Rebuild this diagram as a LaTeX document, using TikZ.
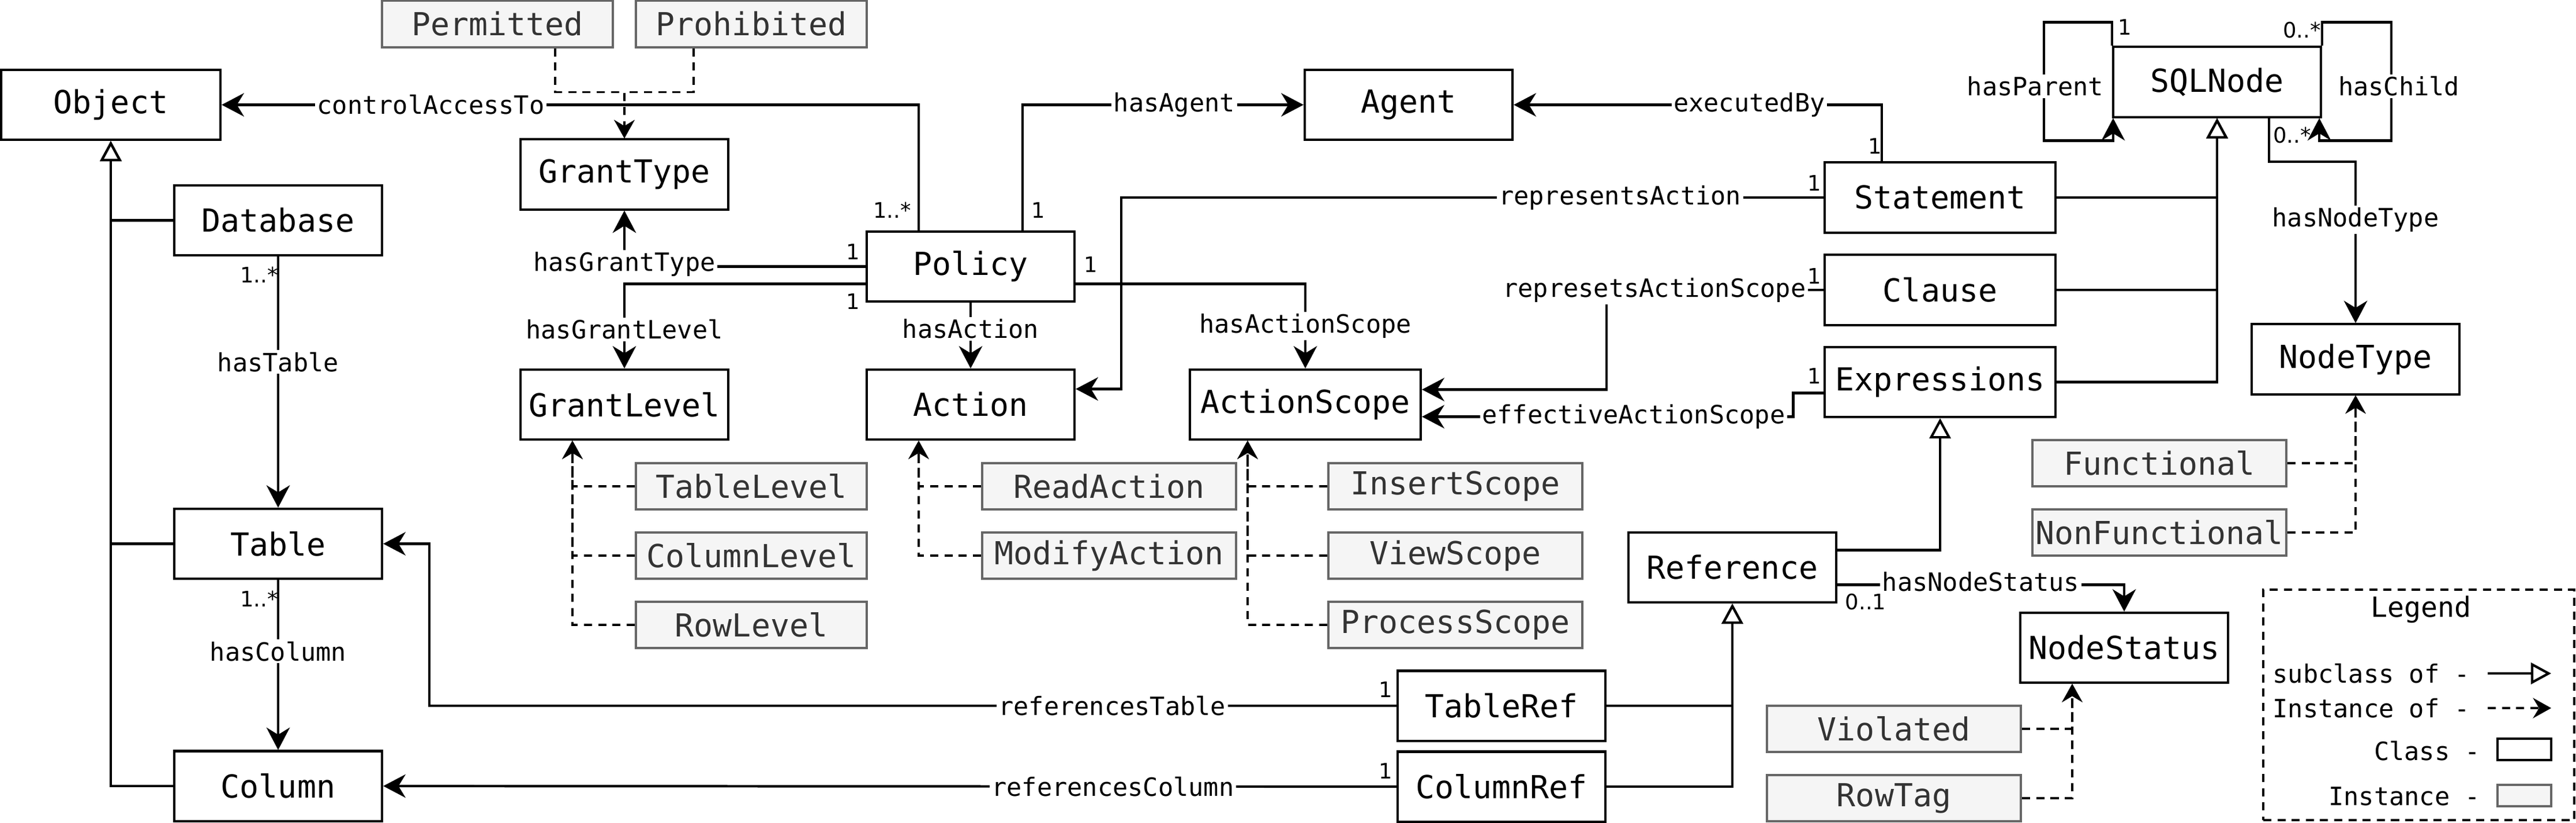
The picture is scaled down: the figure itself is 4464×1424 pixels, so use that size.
\documentclass[tikz,border=0pt]{standalone}
\usepackage{fontspec}
\setmainfont{DejaVu Sans Mono}
\newfontfamily\multfont{DejaVu Sans}
\usetikzlibrary{arrows.meta}

\definecolor{instfill}{HTML}{F5F5F5}
\definecolor{instline}{HTML}{666666}
\definecolor{insttext}{HTML}{333333}

\tikzset{
  cls/.style={draw, line width=1.15pt, fill=white, minimum width=3.6cm,
    minimum height=1.21cm, inner sep=0pt, font=\fontsize{15.6}{18}\selectfont},
  inst/.style={draw=instline, fill=instfill, text=insttext, line width=1.15pt,
    minimum width=4cm, minimum height=0.8cm, inner sep=0pt,
    font=\fontsize{15.6}{18}\selectfont},
  rel/.style={line width=1.2pt, -{Stealth[length=11pt,width=11.5pt,inset=3.5pt]}},
  sub/.style={line width=1.2pt, -{Triangle[fill=white,length=10pt,width=10.5pt]}},
  inof/.style={line width=1pt, dash pattern=on 4pt off 3pt,
    -{Stealth[length=9pt,width=10pt,inset=3pt]}},
  lbl/.style={fill=white, inner sep=1pt, font=\fontsize{12.4}{14}\selectfont},
  mult/.style={inner sep=0pt, font=\multfont\fontsize{10.5}{12}\selectfont},
}

\begin{document}
\begin{tikzpicture}[x=0.01cm, y=-0.01cm]
  \useasboundingbox (0,0) rectangle (4464,1424);

  % classes
  \node[cls, minimum width=3.8cm] (Object) at (192,181.5) {Object};
  \node[cls] (Database) at (482,381.5) {Database};
  \node[cls] (Table) at (482,941.5) {Table};
  \node[cls] (Column) at (482,1361) {Column};
  \node[cls] (GrantType) at (1082,302) {GrantType};
  \node[cls] (GrantLevel) at (1082,700.5) {GrantLevel};
  \node[cls] (Policy) at (1682,461.5) {Policy};
  \node[cls] (Action) at (1682,700.5) {Action};
  \node[cls, minimum width=4cm] (ActionScope) at (2262,700.5) {ActionScope};
  \node[cls] (Agent) at (2441,181.5) {Agent};
  \node[cls, minimum width=4cm] (Statement) at (3362,342) {Statement};
  \node[cls, minimum width=4cm] (Clause) at (3362,502) {Clause};
  \node[cls, minimum width=4cm] (Expressions) at (3362,661.5) {Expressions};
  \node[cls] (SQLNode) at (3842,142) {SQLNode};
  \node[cls] (NodeType) at (4082,622) {NodeType};
  \node[cls] (Reference) at (3002,982.5) {Reference};
  \node[cls] (NodeStatus) at (3681,1121.5) {NodeStatus};
  \node[cls] (TableRef) at (2602,1222) {TableRef};
  \node[cls] (ColumnRef) at (2602,1362) {ColumnRef};

  % instances
  \node[inst] (Permitted) at (862,41.5) {Permitted};
  \node[inst] (Prohibited) at (1302,41.5) {Prohibited};
  \node[inst] (TableLevel) at (1302,842) {TableLevel};
  \node[inst] (ColumnLevel) at (1302,962) {ColumnLevel};
  \node[inst] (RowLevel) at (1302,1082) {RowLevel};
  \node[inst, minimum width=4.4cm] (ReadAction) at (1922,842) {ReadAction};
  \node[inst, minimum width=4.4cm] (ModifyAction) at (1922,962) {ModifyAction};
  \node[inst, minimum width=4.4cm] (InsertScope) at (2522,842) {InsertScope};
  \node[inst, minimum width=4.4cm] (ViewScope) at (2522,962) {ViewScope};
  \node[inst, minimum width=4.4cm] (ProcessScope) at (2522,1082) {ProcessScope};
  \node[inst, minimum width=4.4cm] (Functional) at (3742,802) {Functional};
  \node[inst, minimum width=4.4cm] (NonFunctional) at (3742,922) {NonFunctional};
  \node[inst, minimum width=4.4cm] (Violated) at (3282,1262) {Violated};
  \node[inst, minimum width=4.4cm] (RowTag) at (3282,1382) {RowTag};

  % subclass of
  \draw[sub] (Database.west) -| (Object.south);
  \draw[sub] (Table.west) -| (Object.south);
  \draw[sub] (Column.west) -| (Object.south);
  \draw[sub] (Statement.east) -| (SQLNode.south);
  \draw[sub] (Clause.east) -| (SQLNode.south);
  \draw[sub] (Expressions.east) -| (SQLNode.south);
  \draw[sub] ([yshift=0.3cm]Reference.east) -| (Expressions.south);
  \draw[sub] (TableRef.east) -| (Reference.south);
  \draw[sub] (ColumnRef.east) -| (Reference.south);

  % instance of
  \draw[inof] ([xshift=1cm]Permitted.south) |- ([yshift=0.8cm]GrantType.north) -- (GrantType.north);
  \draw[inof] ([xshift=-1cm]Prohibited.south) |- ([yshift=0.8cm]GrantType.north) -- (GrantType.north);
  \draw[inof] (TableLevel.west) -| ([xshift=-0.9cm]GrantLevel.south);
  \draw[inof] (ColumnLevel.west) -| ([xshift=-0.9cm]GrantLevel.south);
  \draw[inof] (RowLevel.west) -| ([xshift=-0.9cm]GrantLevel.south);
  \draw[inof] (ReadAction.west) -| ([xshift=-0.9cm]Action.south);
  \draw[inof] (ModifyAction.west) -| ([xshift=-0.9cm]Action.south);
  \draw[inof] (InsertScope.west) -| ([xshift=-1cm]ActionScope.south);
  \draw[inof] (ViewScope.west) -| ([xshift=-1cm]ActionScope.south);
  \draw[inof] (ProcessScope.west) -| ([xshift=-1cm]ActionScope.south);
  \draw[inof] (Functional.east) -| (NodeType.south);
  \draw[inof] (NonFunctional.east) -| (NodeType.south);
  \draw[inof] (Violated.east) -| ([xshift=-0.9cm]NodeStatus.south);
  \draw[inof] (RowTag.east) -| ([xshift=-0.9cm]NodeStatus.south);

  % properties
  \draw[rel] (Database.south) -- node[lbl, pos=0.42] {hasTable} (Table.north);
  \draw[rel] (Table.south) -- node[lbl, pos=0.42] {hasColumn} (Column.north);
  \draw[rel] ([xshift=-0.9cm]Policy.north) |- node[lbl, pos=0.85] {controlAccessTo} (Object.east);
  \draw[rel] ([xshift=0.9cm]Policy.north) |- node[lbl, pos=0.77] {hasAgent} (Agent.west);
  \draw[rel] ([xshift=-1.01cm]Statement.north) |- node[lbl, pos=0.68] {executedBy} (Agent.east);
  \draw[rel] (Statement.west) -| node[lbl, pos=0.145] {representsAction}
    ([xshift=0.79cm, yshift=0.27cm]Action.east) -- ([yshift=0.27cm]Action.east);
  \draw[rel] (Policy.west) -| node[lbl, pos=0.5, yshift=0.04cm] {hasGrantType} (GrantType.south);
  \draw[rel] ([yshift=-0.3cm]Policy.west) -| node[lbl, pos=0.77] {hasGrantLevel} (GrantLevel.north);
  \draw[rel] (Policy.south) -- node[lbl, pos=0.4] {hasAction} (Action.north);
  \draw[rel] ([yshift=-0.3cm]Policy.east) -| node[lbl, pos=0.75] {hasActionScope} (ActionScope.north);
  \draw[rel] (Clause.west) -| node[lbl, pos=0.39] {represetsActionScope}
    ([xshift=3.2cm, yshift=0.26cm]ActionScope.east) -- ([yshift=0.26cm]ActionScope.east);
  \draw[rel] ([yshift=-0.19cm]Expressions.west) -| ([xshift=6.43cm, yshift=-0.21cm]ActionScope.east)
    -- node[lbl, pos=0.43] {effectiveActionScope} ([yshift=-0.21cm]ActionScope.east);
  \draw[rel] (SQLNode.north west) -- ++(0,-41) -- ++(-118,0)
    |- node[lbl, pos=0.27, xshift=-0.15cm] {hasParent} ([xshift=0.02cm, yshift=-0.39cm]SQLNode.south west)
    -- ([xshift=0.02cm]SQLNode.south west);
  \draw[rel] (SQLNode.north east) -- ++(0,-41) -- ++(120,0)
    |- node[lbl, pos=0.27, xshift=0.13cm] {hasChild} ([xshift=-0.05cm, yshift=-0.39cm]SQLNode.south east)
    -- ([xshift=-0.05cm]SQLNode.south east);
  \draw[rel] ([xshift=0.9cm]SQLNode.south) |- ([yshift=2.79cm]NodeType.north)
    -- node[lbl, pos=0.36] {hasNodeType} (NodeType.north);
  \draw[rel] ([yshift=-0.3cm]Reference.east) -| node[lbl, pos=0.25, yshift=0.05cm] {hasNodeStatus} (NodeStatus.north);
  \draw[rel] (TableRef.west) -| node[lbl, pos=0.147] {referencesTable}
    ([xshift=0.8cm]Table.east) -- (Table.east);
  \draw[rel] (ColumnRef.west) -- node[lbl, pos=0.28] {referencesColumn} (Column.east);

  % multiplicities
  \node[mult] (mDbTab) at ([xshift=-0.33cm, yshift=-0.32cm]Database.south) {1..*};
  \node[mult] (mTabCol) at ([xshift=-0.33cm, yshift=-0.33cm]Table.south) {1..*};
  \node[mult] (mPolAcc) at ([xshift=-1.36cm, yshift=0.35cm]Policy.north) {1..*};
  \node[mult] (mPolAg) at ([xshift=1.17cm, yshift=0.35cm]Policy.north) {1};
  \node[mult] (mPolGT) at ([xshift=-0.22cm, yshift=0.25cm]Policy.west) {1};
  \node[mult] (mPolGL) at ([xshift=-0.22cm, yshift=-0.6cm]Policy.west) {1};
  \node[mult] (mPolAS) at ([xshift=0.26cm, yshift=0.03cm]Policy.east) {1};
  \node[mult] (mStEx) at ([xshift=-1.13cm, yshift=0.26cm]Statement.north) {1};
  \node[mult] (mStRA) at ([xshift=-0.16cm, yshift=0.25cm]Statement.west) {1};
  \node[mult] (mClRS) at ([xshift=-0.16cm, yshift=0.24cm]Clause.west) {1};
  \node[mult] (mExEA) at ([xshift=-0.16cm, yshift=0.1cm]Expressions.west) {1};
  \node[mult] (mSqlPar) at ([xshift=0.22cm, yshift=0.32cm]SQLNode.north west) {1};
  \node[mult] (mSqlCh) at ([xshift=-0.35cm, yshift=0.27cm]SQLNode.north east) {0..*};
  \node[mult] (mSqlNT) at ([xshift=-0.52cm, yshift=-0.29cm]SQLNode.south east) {0..*};
  \node[mult] (mRefNS) at ([xshift=0.49cm, yshift=-0.6cm]Reference.east) {0..1};
  \node[mult] (mTRef) at ([xshift=-0.19cm, yshift=0.28cm]TableRef.west) {1};
  \node[mult] (mCRef) at ([xshift=-0.19cm, yshift=0.27cm]ColumnRef.west) {1};

  % legend
  \node[draw, line width=1pt, dash pattern=on 4pt off 3pt, minimum width=5.39cm,
    minimum height=3.99cm] (legend) at (4191.5,1220.5) {};
  \node[font=\fontsize{13.7}{16}\selectfont] (legendT) at (4195,1055) {Legend};
  \node[lbl, anchor=east] (lgSub) at (4284,1166) {subclass of -};
  \node[lbl, anchor=east] (lgInst) at (4284,1226) {Instance of -};
  \node[lbl, anchor=east] (lgCls) at (4302,1300) {Class -};
  \node[lbl, anchor=east] (lgObj) at (4302,1379) {Instance -};
  \coordinate (subA) at (4311,1166);
  \coordinate (subB) at (4421,1166);
  \coordinate (insA) at (4311,1226);
  \coordinate (insB) at (4421,1226);
  \draw[sub] (subA) -- (subB);
  \draw[inof] (insA) -- (insB);
  \node[cls, minimum width=0.93cm, minimum height=0.37cm] (lgClsBox) at (4374.5,1297.5) {};
  \node[inst, minimum width=0.93cm, minimum height=0.37cm] (lgObjBox) at (4374.5,1377.5) {};
\end{tikzpicture}
\end{document}
